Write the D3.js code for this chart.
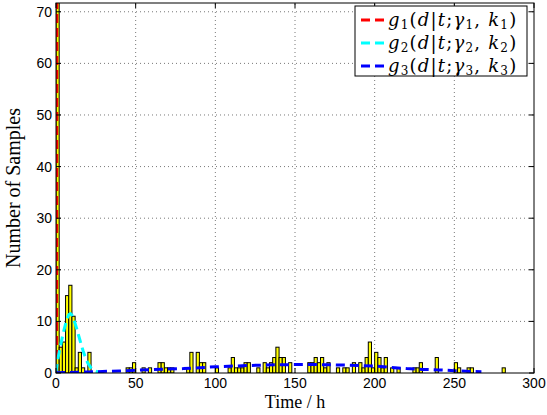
<!DOCTYPE html>
<html><head><meta charset="utf-8">
<script src="https://cdn.jsdelivr.net/npm/d3@7"></script>
<style>body{margin:0;background:#fff}svg{display:block}</style>
</head><body>
<script>
// ---- data ----
const binWidth = 2;
const binStarts = [0,2,4,6,8,10,12,14,16,20,44,46,48,54,58,64,66,68,70,72,82,84,88,90,92,100,108,110,112,114,116,118,120,126,130,132,134,136,138,140,142,146,158,160,162,164,166,168,170,176,180,182,186,190,192,194,196,198,200,202,204,206,210,214,224,226,228,238,250,252,258,260,280];
const binCounts = [75,5,6,15,17,11,1,4,1,4,1,1,2,1,1,2,2,1,1,1,1,4,4,2,2,1,1,3,1,1,1,2,2,1,2,1,2,3,5,3,3,2,2,2,3,2,3,1,2,1,1,1,2,2,1,3,6,1,4,3,1,3,1,1,1,1,2,3,2,1,1,1,1];
const g1T = [0.35,0.45,0.55];
const g1V = [0,60,120];
const g2T = [0,1,2,3,4,5,6,7,8,9,10,11,12,13,14,15,16,17,18,19,20,22,24,26,28,30];
const g2V = [0,2.5,4.0,5.5,7.0,8.3,9.5,10.5,11.3,11.5,11.2,10.5,9.6,8.6,7.5,6.4,5.3,4.3,3.4,2.6,1.9,1.0,0.5,0.25,0.1,0.05];
const g3T = [0,20,40,60,80,100,120,140,160,180,200,210,220,230,240,250,260,267];
const g3V = [0.05,0.2,0.4,0.65,0.85,1.2,1.45,1.6,1.65,1.55,1.35,1.1,0.85,0.7,0.6,0.45,0.3,0.25];
const xTicks = [0,50,100,150,200,250,300];
const yTicks = [0,10,20,30,40,50,60,70];
const seriesColors = ["#ff0000","#00ffff","#0000ff"];
const legendIdx = ["1","2","3"];

// ---- layout ----
const W = 547, H = 415;
const L = 56, R = 534, T = 3, B = 373;
const x = d3.scaleLinear().domain([0,300]).range([L,R]);
const y = d3.scaleLinear().domain([0,71.7]).range([B,T]);

const svg = d3.select("body").append("svg").attr("width",W).attr("height",H);
svg.append("defs").append("clipPath").attr("id","clip")
  .append("rect").attr("x",L).attr("y",T).attr("width",R-L).attr("height",B-T);

// grid
const grid = svg.append("g").attr("stroke","#555").attr("stroke-width",0.8).attr("stroke-dasharray","1,3");
xTicks.slice(1,-1).forEach(t=>grid.append("line").attr("x1",x(t)).attr("x2",x(t)).attr("y1",B).attr("y2",T));
yTicks.slice(1).forEach(t=>grid.append("line").attr("x1",L).attr("x2",R).attr("y1",y(t)).attr("y2",y(t)));

const plot = svg.append("g").attr("clip-path","url(#clip)");
// bars
plot.selectAll("rect.bar").data(binStarts.map((s,i)=>({s,c:binCounts[i]}))).enter()
  .append("rect").attr("class","bar")
  .attr("x",d=>x(d.s)).attr("width",d=>x(d.s+binWidth)-x(d.s))
  .attr("y",d=>y(d.c)).attr("height",d=>y(0)-y(d.c))
  .attr("fill","#ffff00").attr("stroke","#000").attr("stroke-width",1);

// curves
const line = d3.line().x(d=>x(d[0])).y(d=>y(d[1]));
[[g1T,g1V],[g2T,g2V],[g3T,g3V]].forEach(([ts,vs],i)=>{
  plot.append("path").attr("d",line(ts.map((t,j)=>[t,vs[j]])))
    .attr("fill","none").attr("stroke",seriesColors[i]).attr("stroke-width",3)
    .attr("stroke-dasharray","9,5");
});

// frame
svg.append("rect").attr("x",L).attr("y",T).attr("width",R-L).attr("height",B-T)
  .attr("fill","none").attr("stroke","#000").attr("stroke-width",1);
const tk = svg.append("g").attr("stroke","#000").attr("stroke-width",1);
xTicks.forEach(t=>{
  tk.append("line").attr("x1",x(t)).attr("x2",x(t)).attr("y1",B).attr("y2",B-5);
  tk.append("line").attr("x1",x(t)).attr("x2",x(t)).attr("y1",T).attr("y2",T+5);
});
yTicks.forEach(t=>{
  tk.append("line").attr("x1",L).attr("x2",L+5).attr("y1",y(t)).attr("y2",y(t));
  tk.append("line").attr("x1",R).attr("x2",R-5).attr("y1",y(t)).attr("y2",y(t));
});
// tick labels
const sans = "'Liberation Sans', Arial, Helvetica, sans-serif";
svg.append("g").selectAll("text").data(xTicks).enter().append("text")
  .attr("x",d=>x(d)).attr("y",B+15).attr("text-anchor","middle")
  .attr("font-family",sans).attr("font-size",14).text(d=>d);
svg.append("g").selectAll("text").data(yTicks).enter().append("text")
  .attr("x",L-4).attr("y",d=>y(d)+5).attr("text-anchor","end")
  .attr("font-family",sans).attr("font-size",14).text(d=>d);

const serif = "'Liberation Serif', 'Times New Roman', serif";
svg.append("text").attr("x",(L+R)/2).attr("y",408).attr("text-anchor","middle")
  .attr("font-family",serif).attr("font-size",18).text("Time / h");
svg.append("text").attr("transform",`translate(20,${(T+B)/2}) rotate(-90)`).attr("text-anchor","middle")
  .attr("font-family",serif).attr("font-size",20).text("Number of Samples");

// legend
const lg = svg.append("g");
lg.append("rect").attr("x",355).attr("y",6).attr("width",172).attr("height",70)
  .attr("fill","#fff").attr("stroke","#000").attr("stroke-width",1);
legendIdx.forEach((n,i)=>{
  const cy = 20 + i*23;
  lg.append("line").attr("x1",361).attr("x2",386).attr("y1",cy).attr("y2",cy)
    .attr("stroke",seriesColors[i]).attr("stroke-width",3).attr("stroke-dasharray","9,5");
  const tx = lg.append("text").attr("x",388).attr("y",cy+6)
    .attr("font-family","'DejaVu Serif', serif").attr("font-size",18).attr("letter-spacing",1.2);
  const add=(s,it,sub)=>{const e=tx.append("tspan").text(s);
    if(it) e.attr("font-style","italic");
    if(sub) e.attr("font-size",12).attr("dy",3); return e;};
  const up=(s)=>tx.append("tspan").attr("dy",-3).text(s);
  add("g",true); add(n,false,true);
  up("(");
  add("d",true); add("|"); add("t",true); add(";"); add("γ",true); add(n,false,true);
  up(", ");
  add("k",true); add(n,false,true);
  up(")");
});
</script>
</body></html>
